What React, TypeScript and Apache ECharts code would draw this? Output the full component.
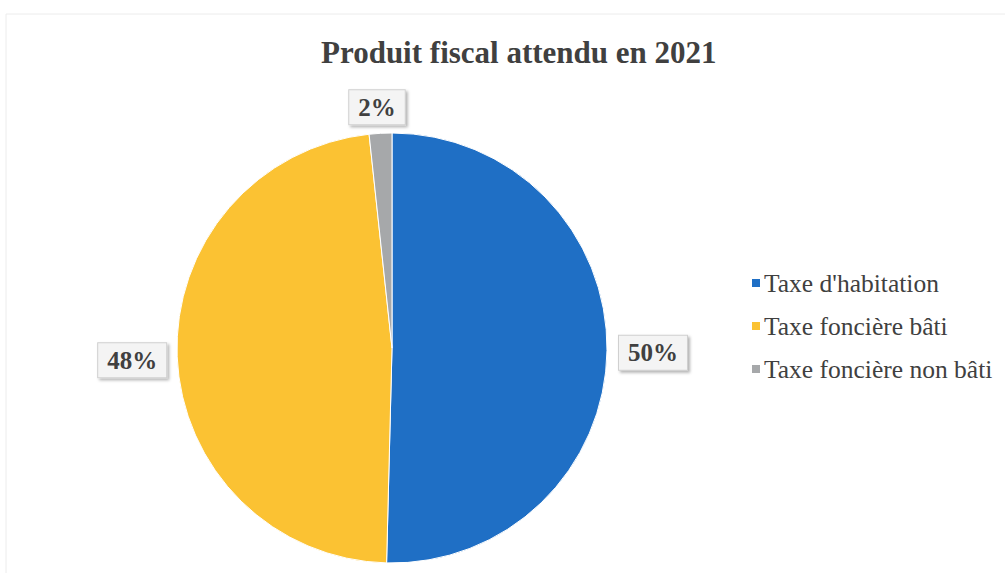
import React, { useEffect, useRef } from "react";
import * as echarts from "echarts";

const title = "Produit fiscal attendu en 2021";
const categories = ["Taxe d'habitation", "Taxe foncière bâti", "Taxe foncière non bâti"];
const values = [50.4, 47.9, 1.7];
const colors = ["#1f6fc5", "#fbc233", "#a6a8aa"];

export default function App() {
  const ref = useRef<HTMLDivElement>(null);
  useEffect(() => {
    if (!ref.current) return;
    const chart = echarts.init(ref.current, null, { renderer: "svg" });
    const serif = "'Liberation Serif', 'Times New Roman', serif";
    const labelAdjust: any[] = [
      { dx: -3, dy: 2 },
      { dx: 4, dy: 3 },
      { align: "center", dx: 2, dy: -16 },
    ];
    chart.setOption({
      animation: false,
      backgroundColor: "#ffffff",
      title: {
        text: title,
        left: 316,
        top: 32,
        textStyle: { fontFamily: serif, fontSize: 31, fontWeight: "bold", color: "#404040" },
      },
      legend: {
        orient: "vertical",
        left: 745,
        top: 265,
        itemWidth: 10,
        itemHeight: 10,
        itemGap: 17,
        icon: "rect",
        data: categories,
        textStyle: { fontFamily: serif, fontSize: 25.5, color: "#404040", padding: [0, 0, 0, -2] },
      },
      graphic: [
        {
          type: "rect",
          shape: { x: 6, y: 14, width: 1100, height: 700 },
          style: { fill: "none", stroke: "#ececec", lineWidth: 1 },
          silent: true,
        },
      ],
      series: [
        {
          type: "pie",
          center: [392, 348],
          radius: 215,
          startAngle: 90,
          clockwise: true,
          itemStyle: { borderColor: "#ffffff", borderWidth: 1 },
          data: categories.map((c, i) => ({ name: c, value: values[i], itemStyle: { color: colors[i] } })),
          label: {
            show: true,
            position: "outside",
            formatter: (p: any) => Math.round(p.percent) + "%",
            fontFamily: serif,
            fontSize: 25,
            fontWeight: "bold",
            color: "#404040",
            backgroundColor: "#f4f4f4",
            borderColor: "#d0d0d0",
            borderWidth: 1,
            padding: [5, 9, 4, 9],
            shadowColor: "rgba(0,0,0,0.3)",
            shadowBlur: 3,
            shadowOffsetX: 2,
            shadowOffsetY: 2,
          },
          labelLine: { show: false, length: 10, length2: 0 },
          labelLayout: (p: any) => labelAdjust[p.dataIndex] || {},
        },
      ],
    });
    return () => chart.dispose();
  }, []);
  return <div ref={ref} style={{ position: "fixed", left: 0, top: 0, width: 1005, height: 573 }} />;
}
